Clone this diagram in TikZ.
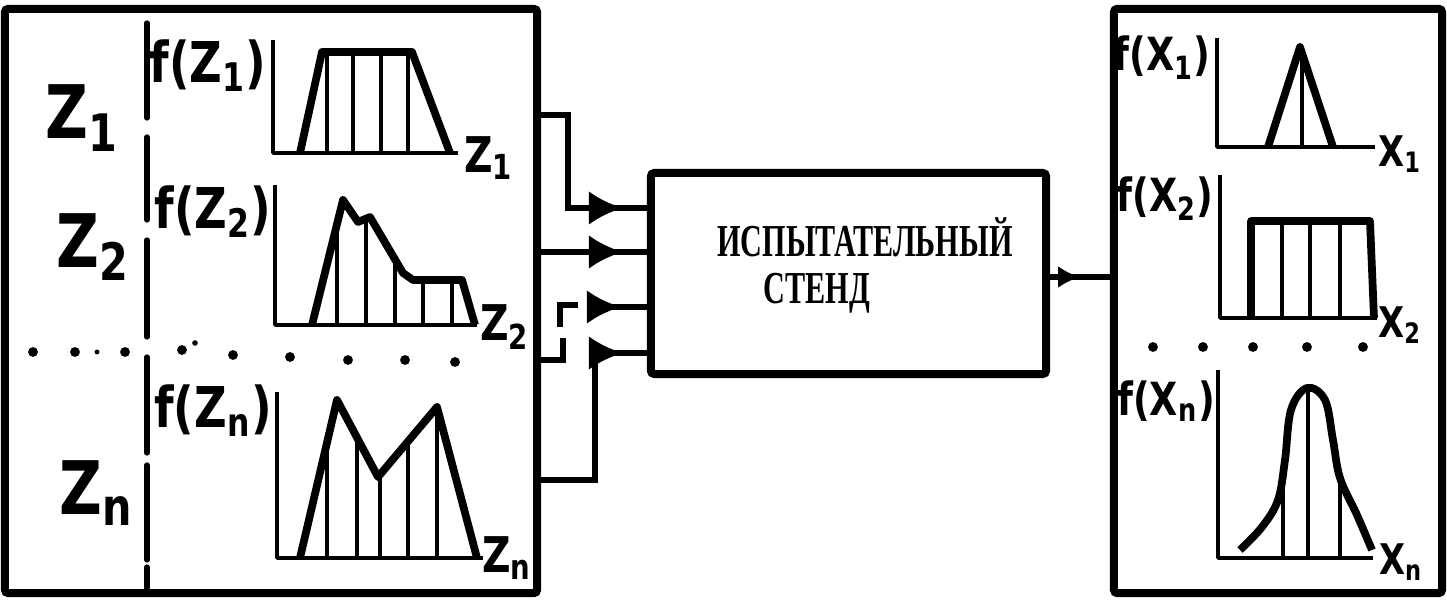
\documentclass[tikz,border=0pt]{standalone}
\usepackage{fontspec}
\usetikzlibrary{arrows.meta,decorations.markings}
\newfontfamily\handfont[FakeStretch=0.8]{DejaVu Sans}
\newfontfamily\standfont[FakeStretch=0.66, UprightFont=* Bold]{Liberation Serif}

\tikzset{
  boxframe/.style={draw, line width=2.3pt, rounded corners=1pt, inner sep=0pt},
  axis/.style={line width=1.1pt, line join=round},
  curve/.style={line width=2.2pt, line join=round},
  hatch/.style={line width=0.9pt},
  wire/.style={line width=1.6pt},
  midarrow/.style={postaction={decorate}, decoration={markings,
      mark=at position #1 with {\arrow{Latex[length=0.34cm,width=0.34cm]}}}},
  outarrow/.style={postaction={decorate}, decoration={markings,
      mark=at position #1 with {\arrow{Latex[length=0.22cm,width=0.22cm]}}}},
  bigz/.style={font=\handfont\bfseries\fontsize{21}{21}\selectfont, inner sep=0pt},
  flab/.style={font=\handfont\bfseries\fontsize{16}{16}\selectfont, inner sep=0pt},
  zlab/.style={font=\handfont\bfseries\fontsize{14}{14}\selectfont, inner sep=0pt},
  xflab/.style={font=\handfont\bfseries\fontsize{13}{13}\selectfont, inner sep=0pt},
  xlab/.style={font=\handfont\bfseries\fontsize{12}{12}\selectfont, inner sep=0pt},
  standtext/.style={font=\standfont\fontsize{13}{13}\selectfont, inner sep=0pt}
}

\begin{document}
\begin{tikzpicture}[x=0.01cm, y=-0.01cm]
  \useasboundingbox (0,0) rectangle (1447,601);

  % Boxes
  \node[boxframe, minimum width=5.32cm, minimum height=5.84cm] (inbox) at (271,301) {};
  \node[boxframe, minimum width=3.95cm, minimum height=2.01cm] (stand) at (848.5,273.5) {};
  \node[boxframe, minimum width=3.28cm, minimum height=5.84cm] (outbox) at (1278,301) {};

  \node[standtext, anchor=base] (stand1) at (865,257) {ИСПЫТАТЕЛЬНЫЙ};
  \node[standtext, anchor=base west] (stand2) at (763,304) {СТЕНД};

  % Left column: inputs
  \foreach \a/\b in {23/118, 137/220, 240/337, 357/453, 465/560, 567/593}
    \draw[line width=1.5pt, line cap=round] (147,\a) -- (147,\b);

  \node[bigz] (z1) at (82,118) {Z\textsubscript{1}};
  \node[bigz] (z2) at (93,247) {Z\textsubscript{2}};
  \node[bigz] (zn) at (97,493) {Z\textsubscript{n}};

  \node[flab] (fz1) at (208,66) {f(Z\textsubscript{1})};
  \node[flab] (fz2) at (213,212) {f(Z\textsubscript{2})};
  \node[flab] (fzn) at (213,411) {f(Z\textsubscript{n})};

  \node[zlab] (az1) at (489,158) {Z\textsubscript{1}};
  \node[zlab] (az2) at (505,327) {Z\textsubscript{2}};
  \node[zlab] (azn) at (507,558) {Z\textsubscript{n}};

  % f(Z1)
  \draw[axis] (273,40) -- (273,153) -- (458,153);
  \draw[curve] (300,153) -- (322,52) -- (412,52) -- (450,153);
  \foreach \x in {327,353,381,408}
    \draw[hatch] (\x,153) -- (\x,53);

  % f(Z2)
  \draw[axis] (275,185) -- (275,325) -- (477,325);
  \draw[curve] (312,325) -- (343,200) -- (358,222) -- (370,217) -- (403,273)
    -- (413,280) -- (462,280) -- (475,325);
  \foreach \x/\y in {337/224, 366/219, 395/259, 423/280, 452/280}
    \draw[hatch] (\x,325) -- (\x,\y);

  % f(Zn)
  \draw[axis] (277,392) -- (277,558) -- (483,558);
  \draw[curve] (300,558) -- (337,400) -- (378,477) -- (437,407) -- (477,558);
  \foreach \x/\y in {327/442, 357/438, 380/474, 408/441, 437/407}
    \draw[hatch] (\x,558) -- (\x,\y);

  \foreach \x/\y in {33/352, 75/352, 125/352, 182/350, 233/355, 290/357, 348/360, 405/360, 455/362}
    \fill (\x,\y) circle (1.4pt);
  \fill (97,352) circle (0.7pt);
  \fill (195,343) circle (0.8pt);

  % Connectors
  \draw[wire, midarrow=-0.24cm] (inbox.east |- 0,115) -- (568,115) -- (568,208)
    -- (stand.west |- 0,208);
  \draw[wire, midarrow=-0.24cm] (inbox.east |- 0,252) -- (stand.west |- 0,252);
  \draw[wire] (560,327) -- (560,305) -- (578,305);
  \draw[wire, midarrow=-0.26cm] (593,307) -- (stand.west |- 0,307);
  \draw[wire] (inbox.east |- 0,360) -| (563,338);
  \draw[wire, midarrow=-0.24cm] (inbox.east |- 0,480) -- (595,480) -- (595,353)
    -- (stand.west |- 0,353);
  \draw[wire, outarrow=0.3cm] (stand.east |- 0,277) -- (outbox.west |- 0,277);

  % Right column: outputs
  \node[xflab] (fx1) at (1162,58) {f(X\textsubscript{1})};
  \node[xflab] (fx2) at (1165,199) {f(X\textsubscript{2})};
  \node[xflab] (fxn) at (1166,401) {f(X\textsubscript{n})};

  \node[xlab] (ax1) at (1400,154) {X\textsubscript{1}};
  \node[xlab] (ax2) at (1400,325) {X\textsubscript{2}};
  \node[xlab] (axn) at (1401,562) {X\textsubscript{n}};

  % f(X1)
  \draw[axis] (1217,38) -- (1217,147) -- (1375,147);
  \draw[curve] (1268,147) -- (1300,47) -- (1333,147);
  \draw[hatch] (1302,147) -- (1302,53);

  % f(X2)
  \draw[axis] (1220,175) -- (1220,318) -- (1377,318);
  \draw[curve] (1251,318) -- (1251,221) -- (1370,221) -- (1374,318);
  \foreach \x in {1282,1310,1340}
    \draw[hatch] (\x,318) -- (\x,221);

  \foreach \x in {1153,1203,1253,1307,1363}
    \fill (\x,347) circle (1.4pt);

  % f(Xn)
  \draw[axis] (1218,370) -- (1218,558) -- (1373,558);
  \draw[curve] plot[smooth, tension=0.6] coordinates {(1240,550) (1262,527) (1278,500)
    (1285,460) (1291,410) (1307,388) (1325,400) (1333,440) (1340,478) (1357,515) (1372,550)};
  \draw[hatch] (1283,558) -- (1283,480);
  \draw[hatch] (1308,558) -- (1308,390);
  \draw[hatch] (1340,558) -- (1340,478);
\end{tikzpicture}
\end{document}
